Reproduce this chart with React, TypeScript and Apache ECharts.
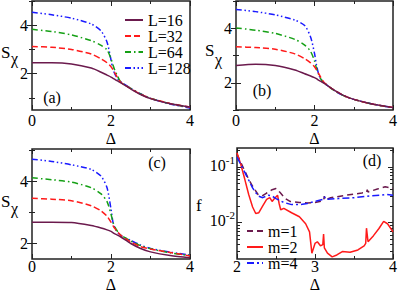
import React, { useEffect, useRef } from 'react';
import * as echarts from 'echarts';

const FONT = 'Liberation Serif';

// Panels (a)-(c): S_chi vs Delta
const deltaABC = [0, 0.5, 1, 1.5, 1.75, 1.9, 2, 2.05, 2.1, 2.15, 2.25, 2.5, 2.75, 3, 3.5, 4];

const aL16 = [2.45, 2.45, 2.4, 2.23, 2.06, 1.94, 1.86, 1.81, 1.76, 1.71, 1.62, 1.37, 1.14, 0.97, 0.76, 0.62];
const aL32 = [3.12, 3.09, 3.0, 2.81, 2.61, 2.45, 2.29, 2.17, 2.02, 1.88, 1.64, 1.38, 1.15, 0.98, 0.77, 0.62];
const aL64 = [3.83, 3.74, 3.6, 3.36, 3.17, 2.98, 2.62, 2.36, 2.13, 1.95, 1.65, 1.39, 1.16, 0.98, 0.76, 0.6];
const aL128 = [4.54, 4.43, 4.29, 4.05, 3.76, 3.3, 2.57, 2.18, 1.98, 1.83, 1.66, 1.4, 1.17, 0.98, 0.75, 0.58];

const bL16 = [2.63, 2.68, 2.63, 2.47, 2.33, 2.25, 2.19, 2.15, 2.1, 2.06, 1.98, 1.73, 1.53, 1.39, 1.21, 1.09];
const bL32 = [3.32, 3.29, 3.23, 3.06, 2.88, 2.73, 2.59, 2.48, 2.35, 2.22, 2.0, 1.73, 1.53, 1.39, 1.21, 1.09];
const bL64 = [4.01, 3.93, 3.81, 3.59, 3.38, 3.15, 2.8, 2.53, 2.33, 2.16, 1.99, 1.72, 1.52, 1.39, 1.21, 1.09];
const bL128 = [4.69, 4.61, 4.49, 4.3, 4.1, 3.68, 3.08, 2.65, 2.35, 2.16, 1.99, 1.72, 1.52, 1.39, 1.21, 1.09];

const cL16 = [2.69, 2.69, 2.68, 2.58, 2.5, 2.44, 2.39, 2.35, 2.31, 2.28, 2.21, 2.0, 1.84, 1.73, 1.61, 1.54];
const cL32 = [3.46, 3.43, 3.38, 3.22, 3.05, 2.88, 2.69, 2.58, 2.48, 2.4, 2.26, 2.05, 1.9, 1.82, 1.71, 1.6];
const cL64 = [4.12, 4.06, 3.98, 3.8, 3.6, 3.35, 2.95, 2.69, 2.53, 2.42, 2.27, 2.08, 1.93, 1.83, 1.7, 1.61];
const cL128 = [4.72, 4.65, 4.54, 4.39, 4.17, 3.8, 3.11, 2.69, 2.5, 2.39, 2.26, 2.1, 1.95, 1.84, 1.72, 1.63];

// Panel (d): f vs Delta (log scale)
const dM1Delta = [2, 2.05, 2.1, 2.15, 2.2, 2.27, 2.32, 2.38, 2.45, 2.5, 2.55, 2.62, 2.68, 2.8, 2.9, 3.0, 3.1, 3.11, 3.12, 3.13, 3.2, 3.4, 3.6, 3.66, 3.67, 3.68, 3.8, 3.9, 4.0];
const dM1F = [0.17, 0.12, 0.085, 0.06, 0.045, 0.032, 0.03, 0.034, 0.039, 0.041, 0.035, 0.027, 0.024, 0.023, 0.0225, 0.023, 0.0245, 0.025, 0.03, 0.0255, 0.028, 0.031, 0.034, 0.035, 0.039, 0.0355, 0.04, 0.044, 0.041];

const dM2Delta = [2, 2.05, 2.1, 2.15, 2.2, 2.24, 2.28, 2.33, 2.38, 2.42, 2.45, 2.48, 2.52, 2.54, 2.56, 2.6, 2.7, 2.8, 2.88, 2.93, 2.96, 3.0, 3.03, 3.07, 3.1, 3.11, 3.12, 3.16, 3.22, 3.28, 3.35, 3.45, 3.55, 3.63, 3.65, 3.66, 3.68, 3.75, 3.82, 3.88, 3.93, 4.0];
const dM2F = [0.18, 0.11, 0.06, 0.032, 0.019, 0.0145, 0.015, 0.02, 0.026, 0.028, 0.024, 0.027, 0.031, 0.022, 0.017, 0.018, 0.015, 0.0127, 0.0095, 0.0068, 0.0028, 0.0042, 0.0045, 0.0038, 0.004, 0.0062, 0.0035, 0.0028, 0.0024, 0.0026, 0.003, 0.0029, 0.0032, 0.0038, 0.0042, 0.0079, 0.0045, 0.0058, 0.0078, 0.0105, 0.0095, 0.0068];

const dM4Delta = [2, 2.05, 2.1, 2.15, 2.2, 2.27, 2.33, 2.4, 2.45, 2.5, 2.6, 2.7, 2.8, 2.9, 3.0, 3.1, 3.12, 3.14, 3.3, 3.5, 3.7, 3.85, 3.92, 4.0];
const dM4F = [0.15, 0.11, 0.08, 0.058, 0.042, 0.03, 0.028, 0.031, 0.03, 0.027, 0.023, 0.021, 0.021, 0.022, 0.024, 0.026, 0.029, 0.026, 0.027, 0.028, 0.03, 0.031, 0.032, 0.031];

// Tick values
const xMajorABC = [0, 2, 4];
const xMinorABC = [1, 3];
const yMajorA = [2, 4];
const yMinorA = [1, 3, 5];
const yMajorB = [2, 4];
const yMinorB = [1, 3, 5];
const yMajorC = [2, 4];
const yMinorC = [3, 5];
const xMajorD = [2, 3, 4];
const xMinorD = [2.5, 3.5];
const yMajorD = [0.01, 0.1];
const yMinorD = [0.003, 0.004, 0.005, 0.006, 0.007, 0.008, 0.009, 0.02, 0.03, 0.04, 0.05, 0.06, 0.07, 0.08, 0.09, 0.2];

const lNames = ['L=16', 'L=32', 'L=64', 'L=128'];
const mNames = ['m=1', 'm=2', 'm=4'];

const MAROON = '#6b1a4d';
const RED = '#ff1a1a';
const GREEN = '#15a015';
const BLUE = '#1a1aff';

const lStyles = [
  { color: MAROON, type: 'solid' as any },
  { color: RED, type: [6, 3] as any },
  { color: GREEN, type: [6, 3, 1.5, 3] as any },
  { color: BLUE, type: [6, 2.5, 1.5, 2.5, 1.5, 2.5] as any },
];
const mStyles = [
  { color: MAROON, type: [6, 4] as any },
  { color: RED, type: 'solid' as any },
  { color: BLUE, type: [7, 3, 2, 3] as any },
];

function makeAxes(
  dim: 'x' | 'y',
  gridIndex: number,
  type: 'value' | 'log',
  min: number,
  max: number,
  major: number[],
  minor: number[],
  margin: number,
  formatter?: any,
  name?: string,
  nameGap = 14
) {
  const posA = dim === 'x' ? 'bottom' : 'left';
  const posB = dim === 'x' ? 'top' : 'right';
  const base = (pos: string, vals: number[], len: number, withLabels: boolean) => {
    const ax: any = {
      type,
      gridIndex,
      min,
      max,
      position: pos,
      axisLine: { show: false },
      splitLine: { show: false },
      minorTick: { show: false },
      axisTick: { show: true, inside: true, length: len, customValues: vals, lineStyle: { color: '#222', width: 1 } },
      axisLabel: withLabels
        ? {
            show: true,
            customValues: major,
            margin,
            fontFamily: FONT,
            fontSize: 16,
            lineHeight: 12,
            color: '#000',
            formatter,
            rich: {
              b: { fontFamily: FONT, fontSize: 16, color: '#000', verticalAlign: 'bottom' },
              s: { fontFamily: FONT, fontSize: 11, color: '#000', verticalAlign: 'bottom', padding: [0, 0, 8, 0] },
            },
          }
        : { show: false },
    };
    if (type === 'log') ax.logBase = 10;
    if (withLabels && name) {
      ax.name = name;
      ax.nameLocation = 'middle';
      ax.nameGap = nameGap;
      ax.nameMoveOverlap = false;
      ax.nameTextStyle = { fontFamily: FONT, fontSize: 16, lineHeight: 12, color: '#000' };
    }
    return ax;
  };
  return [base(posA, major, 5, true), base(posA, minor, 3, false), base(posB, major, 5, false), base(posB, minor, 3, false)];
}

const pairs = (xs: number[], ys: number[]) => xs.map((x, i) => [x, ys[i]]);

export default function App() {
  const ref = useRef<HTMLDivElement>(null);
  useEffect(() => {
    if (!ref.current) return;
    const chart = echarts.init(ref.current, undefined, { renderer: 'svg' });

    const grids = [
      { left: 32, top: 1, width: 158, height: 109 },
      { left: 236, top: 1, width: 157, height: 109 },
      { left: 32, top: 149, width: 158, height: 110 },
      { left: 237, top: 148, width: 156, height: 111 },
    ].map((g) => ({ ...g, show: true, borderColor: '#222', borderWidth: 1.5, backgroundColor: 'transparent', containLabel: false, outerBoundsMode: 'none' }));

    const logFmt = (v: number) => {
      const e = Math.round(Math.log10(v));
      return '{b|10}{s|' + e + '}';
    };

    const xAxes = [
      ...makeAxes('x', 0, 'value', 0, 4, xMajorABC, xMinorABC, 4, undefined, 'Δ', 22),
      ...makeAxes('x', 1, 'value', 0, 4, xMajorABC, xMinorABC, 4, undefined, 'Δ', 22),
      ...makeAxes('x', 2, 'value', 0, 4, xMajorABC, xMinorABC, 1, undefined, 'Δ', 19),
      ...makeAxes('x', 3, 'value', 2, 4, xMajorD, xMinorD, 1, undefined, 'Δ', 19),
    ];
    const yAxes = [
      ...makeAxes('y', 0, 'value', 0.5, 5, yMajorA, yMinorA, 4),
      ...makeAxes('y', 1, 'value', 1, 5, yMajorB, yMinorB, 4),
      ...makeAxes('y', 2, 'value', 1.5, 5.05, yMajorC, yMinorC, 4),
      ...makeAxes('y', 3, 'log', 0.0022, 0.22, yMajorD, yMinorD, 2, logFmt),
    ];

    const panelData = [
      [aL16, aL32, aL64, aL128],
      [bL16, bL32, bL64, bL128],
      [cL16, cL32, cL64, cL128],
    ];
    const series: any[] = [];
    panelData.forEach((sets, p) => {
      sets.forEach((vals, k) => {
        series.push({
          type: 'line',
          name: lNames[k],
          xAxisIndex: p * 4,
          yAxisIndex: p * 4,
          data: pairs(deltaABC, vals),
          symbol: 'none',
          smooth: 0.25,
          lineStyle: { color: lStyles[k].color, width: 1.5, type: lStyles[k].type },
          itemStyle: { color: lStyles[k].color },
          z: 10 - k,
        });
      });
    });
    const dSets = [
      [dM1Delta, dM1F],
      [dM2Delta, dM2F],
      [dM4Delta, dM4F],
    ];
    dSets.forEach(([xs, ys], k) => {
      series.push({
        type: 'line',
        name: mNames[k],
        xAxisIndex: 12,
        yAxisIndex: 12,
        data: pairs(xs, ys),
        symbol: 'none',
        lineStyle: { color: mStyles[k].color, width: 1.5, type: mStyles[k].type },
        itemStyle: { color: mStyles[k].color },
      });
    });

    const txt = (x: number, y: number, text: string, size = 15, align = 'left') => ({
      type: 'text',
      x,
      y,
      silent: true,
      style: { text, fontFamily: FONT, fontSize: size, fill: '#000', align, verticalAlign: 'middle' },
    });

    const legendCommon = {
      orient: 'vertical',
      itemGap: 0,
      itemHeight: 2,
      selectedMode: false,
      itemStyle: { opacity: 0, borderWidth: 0 },
    };

    chart.setOption({
      animation: false,
      backgroundColor: '#fff',
      grid: grids,
      xAxis: xAxes,
      yAxis: yAxes,
      series,
      legend: [
        {
          ...legendCommon,
          data: lNames,
          left: 119,
          top: 7,
          itemWidth: 18,
          textStyle: { fontFamily: FONT, fontSize: 16, color: '#000', lineHeight: 13 },
        },
        {
          ...legendCommon,
          data: mNames,
          left: 241,
          top: 218,
          itemWidth: 16,
          textStyle: { fontFamily: FONT, fontSize: 16, color: '#000', lineHeight: 14 },
        },
      ],
      graphic: [
        txt(1, 52, 'S', 17),
        txt(11, 58, 'χ', 16),
        txt(205, 50, 'S', 17),
        txt(215, 59, 'χ', 16),
        txt(1, 201, 'S', 17),
        txt(11, 208, 'χ', 16),
        txt(196, 205, 'f', 17),
        txt(52, 97, '(a)', 16, 'center'),
        txt(262, 90, '(b)', 16, 'center'),
        txt(157, 162, '(c)', 16, 'center'),
        txt(372, 160, '(d)', 16, 'center'),
      ],
    });
    return () => chart.dispose();
  }, []);
  return <div ref={ref} style={{ position: 'fixed', left: 0, top: 0, width: 399, height: 291, background: '#fff' }} />;
}
